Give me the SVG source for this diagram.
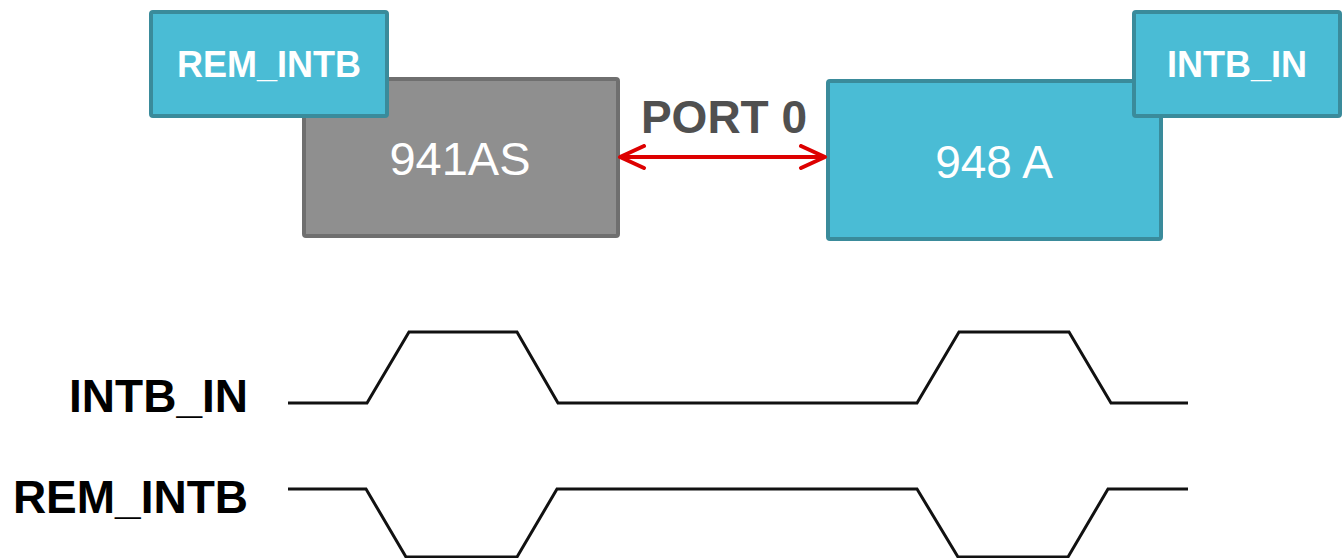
<svg xmlns="http://www.w3.org/2000/svg" width="1342" height="558" viewBox="0 0 1342 558">
<style>
.teal{fill:#4abcd5;stroke:#3a8b9b;stroke-width:4}
.gray{fill:#8f8f8f;stroke:#6f6f6f;stroke-width:4}
.t{font-family:"Liberation Sans",Arial,sans-serif;text-anchor:middle}
.w{fill:#ffffff}
.lbl{font-family:"Liberation Sans",Arial,sans-serif;font-weight:bold;font-size:46px;fill:#000;text-anchor:end}
.wave{fill:none;stroke:#111;stroke-width:3;stroke-linejoin:miter}
</style>
<defs>
<marker id="ah" viewBox="0 0 30 26" refX="27" refY="13" markerWidth="30" markerHeight="26" markerUnits="userSpaceOnUse" orient="auto-start-reverse">
<path d="M3,2 L27,13 L3,24" fill="none" stroke="#dd0000" stroke-width="4" stroke-linecap="round" stroke-linejoin="round"/>
</marker>
</defs>
<g id="node-941AS">
<rect class="gray" x="304" y="79" width="314" height="157" rx="2"/>
<text class="t w" x="460" y="175" font-size="47">941AS</text>
</g>
<g id="node-REM_INTB">
<rect class="teal" x="151" y="12" width="236" height="104" rx="2"/>
<text class="t w" x="269" y="77" font-size="36" font-weight="bold">REM_INTB</text>
</g>
<g id="node-948A">
<rect class="teal" x="828" y="81" width="333" height="158" rx="2"/>
<text class="t w" x="994" y="178" font-size="46">948 A</text>
</g>
<g id="node-INTB_IN">
<rect class="teal" x="1134" y="12" width="206" height="104" rx="2"/>
<text class="t w" x="1237" y="77" font-size="36" font-weight="bold">INTB_IN</text>
</g>
<g id="connectors">
<line x1="620" y1="157" x2="825" y2="157" stroke="#dd0000" stroke-width="4" marker-start="url(#ah)" marker-end="url(#ah)"/>
<text class="t" x="724" y="133" font-size="46" font-weight="bold" fill="#505050">PORT 0</text>
</g>
<g id="waveforms">
<text class="lbl" x="248" y="412">INTB_IN</text>
<text class="lbl" x="248" y="513">REM_INTB</text>
<polyline class="wave" points="288,403 367,403 409,332 517,332 558,403 917,403 959,332 1069,332 1111,403 1188,403"/>
<polyline class="wave" points="288,489 366,489 406,557 517,557 557,489 917,489 958,557 1068,557 1108,489 1188,489"/>
</g>
</svg>
